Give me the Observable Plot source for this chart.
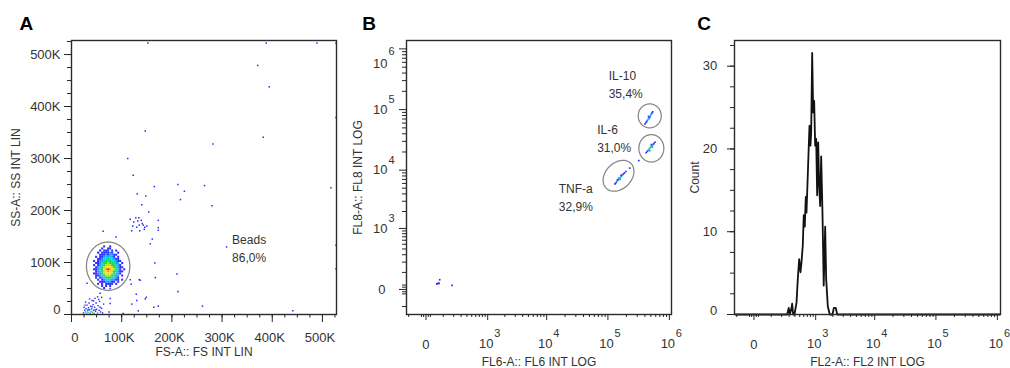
<!DOCTYPE html>
<html>
<head>
<meta charset="utf-8">
<script src="https://cdn.jsdelivr.net/npm/d3@7"></script>
<script src="https://cdn.jsdelivr.net/npm/@observablehq/plot@0.6"></script>
<style>
  body { margin: 0; background: #fff; }
  #fig { position: relative; width: 1010px; height: 368px; }
  #fig .panel { position: absolute; top: 0; }
  #fig svg { overflow: visible; display: block; }
</style>
</head>
<body>
<div id="fig"></div>
<script>
// ---------- Panel A: FS vs SS (linear) ----------
const linTicks = [0, 100000, 200000, 300000, 400000, 500000];
const linTickLabels = ["0", "100K", "200K", "300K", "400K", "500K"];

// density of the bead population, 4K x 4K bins from FS 40K / SS 136K downwards
const densityRowsA = [
  "00000000000000000",
  "00000010010000000",
  "00000100110000000",
  "00001011101010000",
  "00010111121001000",
  "00001112122110000",
  "00101123232101000",
  "00011233433211000",
  "01012234343321100",
  "00112344544322010",
  "01012345554432100",
  "00123456665432110",
  "01123467876543101",
  "00123456765432110",
  "01122456665432100",
  "00112345554322010",
  "00101234443321000",
  "00010123332211010",
  "00001112221101000",
  "00010101111010000",
  "00000101010000000",
  "00000010000000000"
];

// isolated events [FS (K), SS (K)]
const scatterA = [
  [152,522],[388,522],[489,522],[527,522],[371,479],[394,438],[527,379],[147,353],[382,341],[282,328],
  [112,300],[123,268],[517,244],[165,246],[212,250],[265,248],[225,237],[217,221],[131,232],[148,228],
  [280,209],[140,211],[154,197],[117,183],[124,178],[132,180],[139,181],[143,172],[130,168],[136,161],
  [146,168],[120,161],[135,172],[141,175],[128,186],[145,164],[134,186],[122,170],[150,170],[173,181],
  [173,162],[161,145],[157,136],[309,130],[63,160],[89,149],[166,99],[167,71],[117,67],[135,67],
  [119,58],[210,78],[212,44],[129,39],[120,20],[261,16],[441,7],[527,88],[527,133],[173,16],
  [164,14],[147,30],[77,50],[57,41],[31,60],[77,31],[77,21],[75,5],[103,2],[133,7],
  [149,33],[173,167],[137,66],[130,27]
];

// debris near the origin [FS (K), SS (K), density level]
const debrisA = [
  [24,3,1],[26,8,1],[25,14,1],[28,5,2],[29,11,1],[30,2,3],[31,18,1],[32,7,2],[33,4,4],[34,13,1],
  [35,22,1],[36,9,1],[37,3,3],[38,16,1],[39,6,2],[40,11,1],[41,27,1],[42,4,4],[43,19,1],[44,8,1],
  [45,2,2],[46,14,1],[47,31,1],[48,6,1],[49,22,1],[50,10,1],[52,3,2],[53,17,1],[55,8,1],[56,25,1],
  [58,5,1],[60,12,1],[62,3,1],[64,20,1],[28,24,1],[36,30,1],[52,34,1],[44,26,1],[57,14,1],[33,9,1],
  [41,15,1],[47,9,1],[27,18,1],[38,2,2],[54,29,1],[60,33,1]
];

const beadsGateA = [73000, 93000];
const beadsLabelA = {text: "Beads\n86,0%", x: 320000, y: 158700};

// ---------- Panel B: FL6 vs FL8 (log) ----------
const decadeTicks = [1e3, 1e4, 1e5, 1e6];
const decadeExponents = ["3", "4", "5", "6"];

// [FL6, FL8, density level]
const eventsB = [
  [55,26,1],[60,27,1],[66,30,1],[70,28,1],[74,49,1],[183,18,1],
  // IL-10
  [400e3,58e3,1],[415e3,61e3,1],[430e3,64e3,1],[440e3,67e3,2],[452e3,70e3,3],[463e3,73e3,4],[475e3,76e3,4],
  [486e3,79e3,3],[498e3,82e3,3],[510e3,85e3,2],[522e3,88e3,1],[535e3,92e3,1],[470e3,71e3,2],[458e3,77e3,1],[490e3,75e3,2],
  // IL-6
  [318e3,14.4e3,1],[420e3,19.5e3,1],[440e3,20.5e3,1],[455e3,21.5e3,2],[470e3,22.5e3,3],[488e3,23.5e3,4],[505e3,24.5e3,4],
  [522e3,25.5e3,3],[540e3,26.5e3,2],[560e3,27.5e3,1],[585e3,29e3,1],[480e3,21e3,2],[510e3,26.5e3,1],[530e3,24e3,2],
  // TNF-a
  [130e3,5.9e3,1],[136e3,6.2e3,1],[141e3,6.5e3,2],[146e3,6.8e3,3],[151e3,7.0e3,4],[156e3,7.3e3,4],[161e3,7.6e3,3],
  [166e3,7.9e3,3],[172e3,8.2e3,2],[178e3,8.6e3,1],[186e3,9.0e3,1],[196e3,9.5e3,1],[143e3,6.9e3,1],[158e3,7.0e3,2],
  [164e3,8.2e3,1],[150e3,7.4e3,2],[227e3,10.8e3,1]
];

const gateCentersB = [[479000, 79000], [509000, 23000], [149000, 8050]];
const gateLabelsB = [
  {text: "IL-10\n35,4%", x: 103000, y: 499000},
  {text: "IL-6\n31,0%", x: 66900, y: 64400},
  {text: "TNF-a\n32,9%", x: 15800, y: 6720}
];

// ---------- Panel C: FL2 histogram ----------
const fl2 = [-110, 270, 295, 310, 334, 350, 367, 391, 431, 458, 488, 518, 542, 574, 600, 627, 656, 676,
  715, 747, 770, 803, 827, 863, 900, 938, 978, 1020, 1063, 1108, 1154, 1203, 1253, 1321, 1389, 1473,
  1533, 1636, 1770, 1971, 2080, 2245, 2370, 1.1e6];
const countC = [0, 0, 0.8, 0, 0.6, 1.3, 0, 0, 1.4, 4.3, 6.7, 5.1, 6.3, 8.3, 12.0, 10.6, 14.2, 12.3,
  16.8, 20.4, 22.8, 20.4, 22, 31.6, 24.4, 25.8, 20.4, 21.2, 14.4, 20.8, 15.6, 13.1, 19.1, 12.3, 3.5, 10.6,
  4.3, 1.0, 0, 0, 0.8, 0.8, 0, 0];
const countTicks = [0, 10, 20, 30];

// ---------- shared styling ----------
const FONT = "'Liberation Sans', Arial, sans-serif";
const INK = "#333";
const densityColor = {
  type: "ordinal",
  domain: [1, 2, 3, 4, 5, 6, 7, 8],
  range: ["#2b2bff", "#2f8cff", "#00d2e8", "#20d040", "#a8e61a", "#ffe000", "#ff9000", "#ff2a00"]
};
const baseStyle = {fontFamily: FONT, fontSize: "13px", color: "#262626", background: "none", overflow: "visible"};

// closed ellipse outline usable as a dot symbol (sizes in pixels)
function ellipseSymbol(rx, ry, deg) {
  const a = deg * Math.PI / 180;
  return {
    draw(ctx) {
      for (let i = 0; i <= 72; ++i) {
        const t = i / 72 * 2 * Math.PI;
        const ex = rx * Math.cos(t), ey = ry * Math.sin(t);
        const X = ex * Math.cos(a) - ey * Math.sin(a);
        const Y = ex * Math.sin(a) + ey * Math.cos(a);
        if (i === 0) ctx.moveTo(X, Y); else ctx.lineTo(X, Y);
      }
      ctx.closePath();
    }
  };
}
const gateStyle = {fill: "none", stroke: "#858585", strokeWidth: 1.25};
const blank = () => "";

// symlog tick positions between the labelled decades
const minorLogTicks = [-100, -20, -10, 10, 20,
  ...[1, 2, 3, 4, 5, 6, 7, 8, 9].map(k => k * 100),
  ...[1e3, 1e4, 1e5].flatMap(b => [2, 3, 4, 5, 6, 7, 8, 9].map(k => k * b))];
const logMajor = [0, ...decadeTicks];

const mid = {lineAnchor: "middle", fill: INK};

function panelLetter(letter, dx) {
  return Plot.text([letter], {frameAnchor: "top-left", text: d => d, dx, dy: -24, lineAnchor: "top",
    textAnchor: "start", fontSize: 19, fontWeight: "bold", fill: "#000"});
}

// log-axis tick labels ("10" with a raised exponent)
function logLabelsX() {
  return [
    Plot.text([0], {x: d => d, text: () => "0", frameAnchor: "bottom", dy: 30, fontSize: 13, ...mid}),
    Plot.text(decadeTicks, {x: d => d, text: () => "10", frameAnchor: "bottom", dy: 29.5, dx: -1.5, fontSize: 13, ...mid}),
    Plot.text(decadeTicks, {x: d => d, text: (d, i) => decadeExponents[i], frameAnchor: "bottom", dy: 19, dx: 6.5,
      textAnchor: "start", fontSize: 11, ...mid})
  ];
}

// ---------- Panel A ----------
const cellsA = densityRowsA.flatMap((row, r) =>
  Array.from(row, (ch, c) => ({x: 40000 + c * 4000, y: 136000 - r * 4000, level: +ch}))
).filter(d => d.level > 0);

const plotA = Plot.plot({
  width: 340, height: 368,
  marginLeft: 71, marginRight: 4, marginTop: 40, marginBottom: 54,
  style: baseStyle,
  x: {domain: [0, 528000]},
  y: {domain: [0, 527000]},
  color: densityColor,
  marks: [
    Plot.dot(scatterA, {x: d => d[0] * 1000, y: d => d[1] * 1000, symbol: "square", r: 0.85, fill: () => 1}),
    Plot.dot(debrisA, {x: d => d[0] * 1000, y: d => d[1] * 1000, symbol: "square", r: 0.8, fill: d => d[2]}),
    Plot.rect(cellsA, {x1: d => d.x, x2: d => d.x + 4000, y1: d => d.y - 4000, y2: d => d.y, fill: d => d.level}),
    Plot.dot([beadsGateA], {x: d => d[0], y: d => d[1], symbol: ellipseSymbol(21.7, 24.2, 0), ...gateStyle}),
    Plot.text([beadsLabelA], {x: "x", y: "y", text: "text", textAnchor: "start", lineAnchor: "top",
      lineHeight: 1.45, fontSize: 12, fill: INK}),
    Plot.frame({stroke: "#2b2b2b", strokeWidth: 1.4}),
    Plot.axisX(d3.range(0, 525001, 25000), {tickSize: 3.5, tickFormat: blank, label: null}),
    Plot.axisX(linTicks, {tickSize: 8, tickFormat: blank, label: null}),
    Plot.axisY(d3.range(0, 525001, 25000), {tickSize: 4, tickFormat: blank, label: null}),
    Plot.axisY(linTicks, {tickSize: 7, tickFormat: blank, label: null}),
    Plot.text(linTicks, {filter: d => d > 0, x: d => d, text: (d, i) => linTickLabels[i], frameAnchor: "bottom",
      dy: 23.5, dx: -2.5, fontSize: 13, ...mid}),
    Plot.text(linTicks, {filter: d => d === 0, x: d => d, text: () => linTickLabels[0], frameAnchor: "bottom",
      dy: 23.5, dx: 3.3, fontSize: 13, ...mid}),
    Plot.text(linTicks, {filter: d => d > 0, y: d => d, text: (d, i) => linTickLabels[i], frameAnchor: "left",
      dx: -11, textAnchor: "end", fontSize: 13, ...mid}),
    Plot.text(linTicks, {filter: d => d === 0, y: d => d, text: () => linTickLabels[0], frameAnchor: "left",
      dx: -11, dy: -4.4, textAnchor: "end", fontSize: 13, ...mid}),
    Plot.text(["FS-A:: FS INT LIN"], {text: d => d, frameAnchor: "bottom", dy: 38, fontSize: 12, ...mid}),
    Plot.text(["SS-A:: SS INT LIN"], {text: d => d, frameAnchor: "left", dx: -55.7, rotate: -90,
      textAnchor: "middle", fontSize: 12, ...mid}),
    panelLetter("A", -52)
  ]
});

// ---------- Panel B ----------
const plotB = Plot.plot({
  width: 340, height: 368,
  marginLeft: 66, marginRight: 9, marginTop: 40, marginBottom: 54,
  style: baseStyle,
  x: {type: "symlog", constant: 110, domain: [-118, 1.083e6]},
  y: {type: "symlog", constant: 110, domain: [-174, 1.373e6]},
  color: densityColor,
  marks: [
    Plot.dot(eventsB, {x: d => d[0], y: d => d[1], symbol: "square", r: 0.95, fill: d => d[2]}),
    Plot.dot(gateCentersB.slice(0, 1), {x: d => d[0], y: d => d[1], symbol: ellipseSymbol(11.5, 12, 0), ...gateStyle}),
    Plot.dot(gateCentersB.slice(1, 2), {x: d => d[0], y: d => d[1], symbol: ellipseSymbol(12.5, 13.7, 0), ...gateStyle}),
    Plot.dot(gateCentersB.slice(2, 3), {x: d => d[0], y: d => d[1], symbol: ellipseSymbol(17.5, 13, -45), ...gateStyle}),
    Plot.text(gateLabelsB, {x: "x", y: "y", text: "text", textAnchor: "start", lineAnchor: "top",
      lineHeight: 1.5, fontSize: 12, fill: INK}),
    Plot.frame({stroke: "#2b2b2b", strokeWidth: 1.4}),
    Plot.axisX(minorLogTicks, {tickSize: 3, tickFormat: blank, label: null}),
    Plot.axisX(logMajor, {tickSize: 6, tickFormat: blank, label: null}),
    Plot.axisY(minorLogTicks, {tickSize: 4, tickFormat: blank, label: null}),
    Plot.axisY(logMajor, {tickSize: 7, tickFormat: blank, label: null}),
    ...logLabelsX(),
    Plot.text([0], {y: d => d, text: () => "0", frameAnchor: "left", dx: -21, textAnchor: "end", fontSize: 13, ...mid}),
    Plot.text(decadeTicks, {filter: d => d < 1e6, y: d => d, text: () => "10", frameAnchor: "left", dx: -19,
      textAnchor: "end", fontSize: 13, ...mid}),
    Plot.text(decadeTicks, {filter: d => d < 1e6, y: d => d, text: (d, i) => decadeExponents[i], frameAnchor: "left",
      dx: -18, dy: -10, textAnchor: "start", fontSize: 11, ...mid}),
    Plot.text(decadeTicks, {filter: d => d === 1e6, y: d => d, text: () => "10", frameAnchor: "left", dx: -19, dy: 14.6,
      textAnchor: "end", fontSize: 13, ...mid}),
    Plot.text(decadeTicks, {filter: d => d === 1e6, y: d => d, text: (d, i) => decadeExponents[i], frameAnchor: "left",
      dx: -18, dy: 2.6, textAnchor: "start", fontSize: 11, ...mid}),
    Plot.text(["FL6-A:: FL6 INT LOG"], {text: d => d, frameAnchor: "bottom", dy: 48, fontSize: 12, ...mid}),
    Plot.text(["FL8-A:: FL8 INT LOG"], {text: d => d, frameAnchor: "left", dx: -48, rotate: -90,
      textAnchor: "middle", fontSize: 12, ...mid}),
    panelLetter("B", -44.3)
  ]
});

// ---------- Panel C ----------
const histC = fl2.map((x, i) => ({x, count: countC[i]}));
const plotC = Plot.plot({
  width: 330, height: 368,
  marginLeft: 54, marginRight: 10, marginTop: 40, marginBottom: 54,
  style: baseStyle,
  x: {type: "symlog", constant: 110, domain: [-118, 1.124e6]},
  y: {domain: [0, 33.1]},
  marks: [
    Plot.line(histC, {x: "x", y: "count", stroke: "#111", strokeWidth: 1.8}),
    Plot.frame({stroke: "#2b2b2b", strokeWidth: 1.4}),
    Plot.axisX(minorLogTicks, {tickSize: 3, tickFormat: blank, label: null}),
    Plot.axisX(logMajor, {tickSize: 6, tickFormat: blank, label: null}),
    Plot.axisY(d3.range(0, 33, 2.5), {tickSize: 4, tickFormat: blank, label: null}),
    Plot.axisY(countTicks, {tickSize: 7, tickFormat: blank, label: null}),
    ...logLabelsX(),
    Plot.text(countTicks, {filter: d => d > 0, y: d => d, text: d => String(d), frameAnchor: "left", dx: -17.3,
      textAnchor: "end", fontSize: 13, ...mid}),
    Plot.text(countTicks, {filter: d => d === 0, y: d => d, text: d => String(d), frameAnchor: "left", dx: -17.3,
      dy: -3.5, textAnchor: "end", fontSize: 13, ...mid}),
    Plot.text(["FL2-A:: FL2 INT LOG"], {text: d => d, frameAnchor: "bottom", dy: 48, fontSize: 12, ...mid}),
    Plot.text(["Count"], {text: d => d, frameAnchor: "left", dx: -39, rotate: -90,
      textAnchor: "middle", fontSize: 12, ...mid}),
    panelLetter("C", -37.3)
  ]
});

const fig = document.getElementById("fig");
[[plotA, 0], [plotB, 340], [plotC, 680]].forEach(([svg, left]) => {
  const holder = document.createElement("div");
  holder.className = "panel";
  holder.style.left = left + "px";
  holder.appendChild(svg);
  fig.appendChild(holder);
});
</script>
</body>
</html>
